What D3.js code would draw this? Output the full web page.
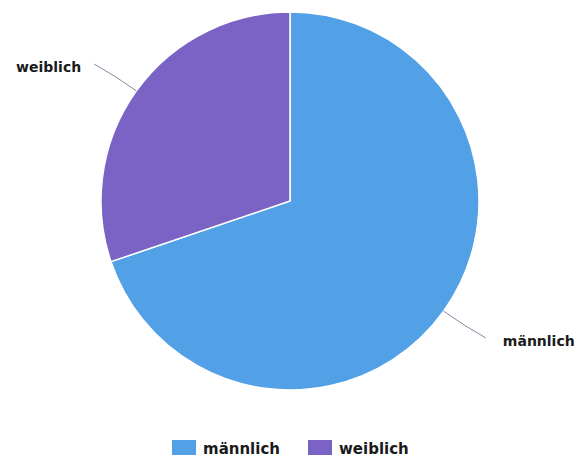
<!DOCTYPE html>
<html><head><meta charset="utf-8">
<script src="https://cdn.jsdelivr.net/npm/d3@7"></script>
<style>
html,body{margin:0;padding:0;background:#fff;}
svg{display:block;}
text{font-family:"DejaVu Sans",sans-serif;font-weight:700;fill:#1a1a1a;}
</style></head><body>
<svg id="chart" width="579" height="461"></svg>
<script>
const categories = ["männlich", "weiblich"];
const values = [69.8, 30.2];
const colors = ["#52A0E6", "#7B62C5"];

const svg = d3.select("#chart");
const cx = 290, cy = 201, R = 189;

const pie = d3.pie().sort(null).value(d => d.v);
const data = categories.map((c, i) => ({c, v: values[i], col: colors[i]}));
const arcs = pie(data);
const arc = d3.arc().innerRadius(0).outerRadius(R);

const g = svg.append("g").attr("transform", `translate(${cx},${cy})`);
g.selectAll("path.slice").data(arcs).enter().append("path")
  .attr("class", "slice")
  .attr("d", arc)
  .attr("fill", d => d.data.col)
  .attr("stroke", "#fff")
  .attr("stroke-width", 1.5);

// leader lines + labels
arcs.forEach(a => {
  const mid = (a.startAngle + a.endAngle) / 2;
  const sx = Math.sin(mid), sy = -Math.cos(mid);
  const p0 = [R * sx, R * sy];
  const p1 = [(R + 26) * sx, (R + 26) * sy];
  const right = sx > 0;
  const p2 = [(R + 52) * sx, (R + 46) * sy];
  g.append("path")
    .attr("d", `M${p0[0]},${p0[1]} Q${p1[0]},${p1[1]} ${p2[0]},${p2[1]}`)
    .attr("fill", "none")
    .attr("stroke", "#7f8aa3")
    .attr("stroke-width", 1);
  g.append("text")
    .attr("x", p2[0] + (right ? 17 : -13))
    .attr("y", p2[1] + 8)
    .attr("text-anchor", right ? "start" : "end")
    .attr("font-size", 14)
    .text(a.data.c);
});

// legend
const legend = svg.append("g").attr("transform", "translate(172,440)");
const offsets = [0, 136];
data.forEach((d, i) => {
  const lg = legend.append("g").attr("transform", `translate(${offsets[i]},0)`);
  lg.append("rect").attr("width", 24).attr("height", 15).attr("fill", d.col);
  lg.append("text").attr("x", 31).attr("y", 14).attr("font-size", 15).text(d.c);
});
</script>
</body></html>
